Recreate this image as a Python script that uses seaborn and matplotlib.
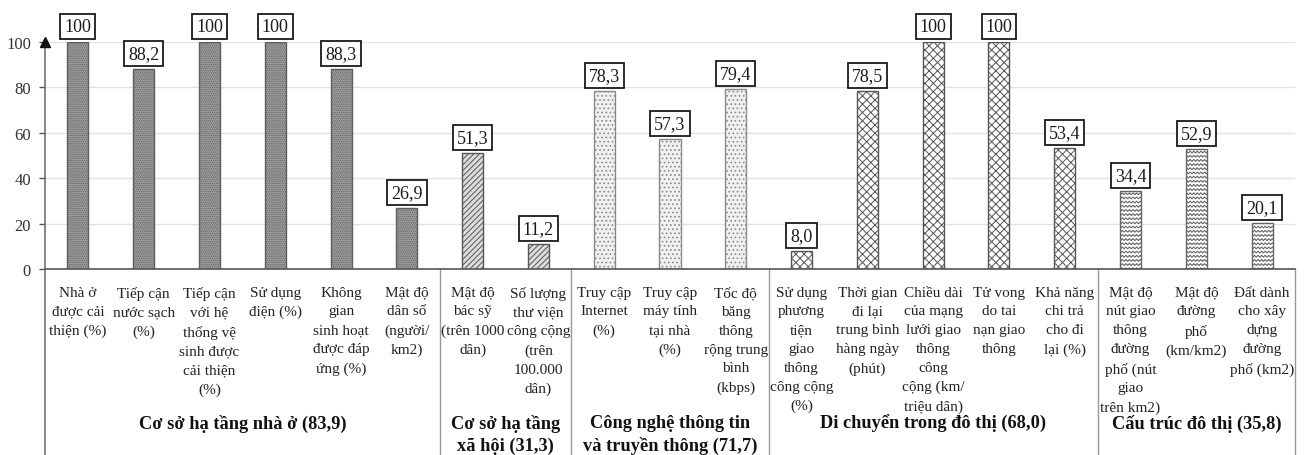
import warnings

import numpy as np
import pandas as pd
import matplotlib
matplotlib.use("Agg")
import matplotlib.pyplot as plt
from matplotlib import hatch as mhatch
from matplotlib.path import Path
from matplotlib.transforms import blended_transform_factory
import seaborn as sns

warnings.filterwarnings("ignore")

# ---------------------------------------------------------------- data
indicators = [
    "Nhà ở\nđược cải\nthiện (%)",
    "Tiếp cận\nnước sạch\n(%)",
    "Tiếp cận\nvới hệ\nthống vệ\nsinh được\ncải thiện\n(%)",
    "Sử dụng\nđiện (%)",
    "Không\ngian\nsinh hoạt\nđược đáp\nứng (%)",
    "Mật độ\ndân số\n(người/\nkm2)",
    "Mật độ\nbác sỹ\n(trên 1000\ndân)",
    "Số lượng\nthư viện\ncông cộng\n(trên\n100.000\ndân)",
    "Truy cập\nInternet\n(%)",
    "Truy cập\nmáy tính\ntại nhà\n(%)",
    "Tốc độ\nbăng\nthông\nrộng trung\nbình\n(kbps)",
    "Sử dụng\nphương\ntiện\ngiao\nthông\ncông cộng\n(%)",
    "Thời gian\nđi lại\ntrung bình\nhàng ngày\n(phút)",
    "Chiều dài\ncủa mạng\nlưới giao\nthông\ncông\ncộng (km/\ntriệu dân)",
    "Tử vong\ndo tai\nnạn giao\nthông",
    "Khả năng\nchi trả\ncho đi\nlại (%)",
    "Mật độ\nnút giao\nthông\nđường\nphố (nút\ngiao\ntrên km2)",
    "Mật độ\nđường\nphố\n(km/km2)",
    "Đất dành\ncho xây\ndựng\nđường\nphố (km2)",
]
values = [100, 88.2, 100, 100, 88.3, 26.9,
          51.3, 11.2,
          78.3, 57.3, 79.4,
          8.0, 78.5, 100, 100, 53.4,
          34.4, 52.9, 20.1]

group_names = [
    "Cơ sở hạ tầng nhà ở",
    "Cơ sở hạ tầng\nxã hội",
    "Công nghệ thông tin\nvà truyền thông",
    "Di chuyển trong đô thị",
    "Cấu trúc đô thị",
]
group_scores = [83.9, 31.3, 71.7, 68.0, 35.8]
group_sizes = [6, 2, 3, 5, 3]

y_ticks = [0, 20, 40, 60, 80, 100]


def vn_number(v):
    """Vietnamese decimal notation (comma separator)."""
    return "100" if v == 100 else f"{v:.1f}".replace(".", ",")


# ------------------------------------------------- wavy hatch pattern
class WaveHatch(mhatch.HatchPatternBase):
    """Horizontal wavy lines, selected with '~' in a hatch string."""

    def __init__(self, hatch, density):
        self.num_lines = int(hatch.count("~") * density)
        self.periods = 28
        self.num_pts = self.periods * 8 + 1
        self.num_vertices = self.num_lines * self.num_pts

    def set_vertices_and_codes(self, vertices, codes):
        t = np.linspace(0.0, 1.0, self.num_pts)
        for i in range(self.num_lines):
            sl = slice(i * self.num_pts, (i + 1) * self.num_pts)
            vertices[sl, 0] = t
            vertices[sl, 1] = ((i + 0.5) / self.num_lines
                               + 0.009 * np.sin(2 * np.pi * self.periods * t))
            codes[sl] = Path.LINETO
            codes[i * self.num_pts] = Path.MOVETO


mhatch._hatch_types.append(WaveHatch)

# --------------------------------------------------------------- style
sns.set_style("white")
plt.rcParams["font.family"] = ["Liberation Serif", "DejaVu Serif"]
plt.rcParams["hatch.linewidth"] = 0.7

group_styles = [
    dict(facecolor="#a2a2a2", hatch="........", edgecolor="#5e5e5e"),
    dict(facecolor="#dcdcdc", hatch="//////", edgecolor="#555555"),
    dict(facecolor="#f0f0f0", hatch="....", edgecolor="#8a8a8a"),
    dict(facecolor="#ffffff", hatch="xxxx", edgecolor="#555555"),
    dict(facecolor="#ffffff", hatch="~~~~", edgecolor="#666666"),
]

df = pd.DataFrame({
    "chi_so": indicators,
    "gia_tri": values,
    "nhom": np.repeat(group_names, group_sizes),
})

fig = plt.figure(figsize=(13.06, 4.56), dpi=100)
W, H = 1306, 456
ax = fig.add_axes([45 / W, 1 - 270 / H, (1295 - 45) / W, (270 - 43) / H])

sns.barplot(data=df, x="chi_so", y="gia_tri", order=indicators,
            width=0.32, color="white", errorbar=None, linewidth=1,
            saturation=1, ax=ax)

bars = sorted(ax.patches, key=lambda p: p.get_x())
gidx = np.repeat(np.arange(len(group_sizes)), group_sizes)
for bar, g in zip(bars, gidx):
    st = group_styles[g]
    bar.set_facecolor(st["facecolor"])
    bar.set_edgecolor(st["edgecolor"])
    bar.set_hatch(st["hatch"])
    bar.set_linewidth(1.0)

# value boxes above the bars
ax.bar_label(ax.containers[0], labels=[vn_number(v) for v in values],
             padding=5, fontsize=13, color="#1a1a1a",
             bbox=dict(boxstyle="square,pad=0.22", facecolor="white",
                       edgecolor="#1a1a1a", linewidth=1.3))

# axes and grid
n = len(indicators)
ax.set_xlim(-0.5, n - 0.5)
ax.set_ylim(0, 100)
ax.set_yticks(y_ticks)
ax.set_yticklabels([str(t) for t in y_ticks], fontsize=12, color="#333333")
ax.set_xticks(range(n))
ax.set_xticklabels(indicators, fontsize=11, linespacing=1.58, color="#222222")
ax.set_xlabel("")
ax.set_ylabel("")
ax.tick_params(axis="x", length=0, pad=12)
ax.tick_params(axis="y", length=4, width=1, color="#555555", pad=6, left=True)
ax.yaxis.grid(True, color="#e2e2e2", linewidth=1)
ax.set_axisbelow(True)
for side in ("top", "right", "left"):
    ax.spines[side].set_visible(False)
ax.spines["bottom"].set_color("#555555")
ax.spines["bottom"].set_linewidth(1.2)

# y axis running down to the bottom edge, with an arrow head
bottom_y = -(H - 270) / (270 - 43)
ax.plot([0, 0], [bottom_y, 1], transform=ax.transAxes, clip_on=False,
        color="#666666", linewidth=1.1, zorder=3)
ax.plot([0], [1.0], marker="^", markersize=7, color="#111111",
        transform=ax.transAxes, clip_on=False, zorder=4)

# group separators and group titles under the axis
trans = blended_transform_factory(ax.transData, ax.transAxes)
bounds = np.cumsum(group_sizes)
for b in bounds:
    ax.plot([b - 0.5, b - 0.5], [bottom_y, 0], transform=trans,
            clip_on=False, color="#999999", linewidth=1)

starts = np.concatenate([[0], bounds[:-1]])
for s, e, name, score in zip(starts, bounds, group_names, group_scores):
    ax.text((s + e - 1) / 2, -0.64, f"{name} ({vn_number(score)})",
            transform=trans, ha="center", va="top", fontsize=13.2,
            fontweight="bold", linespacing=1.32, color="#111111")

fig.savefig("out.png", dpi=100)
